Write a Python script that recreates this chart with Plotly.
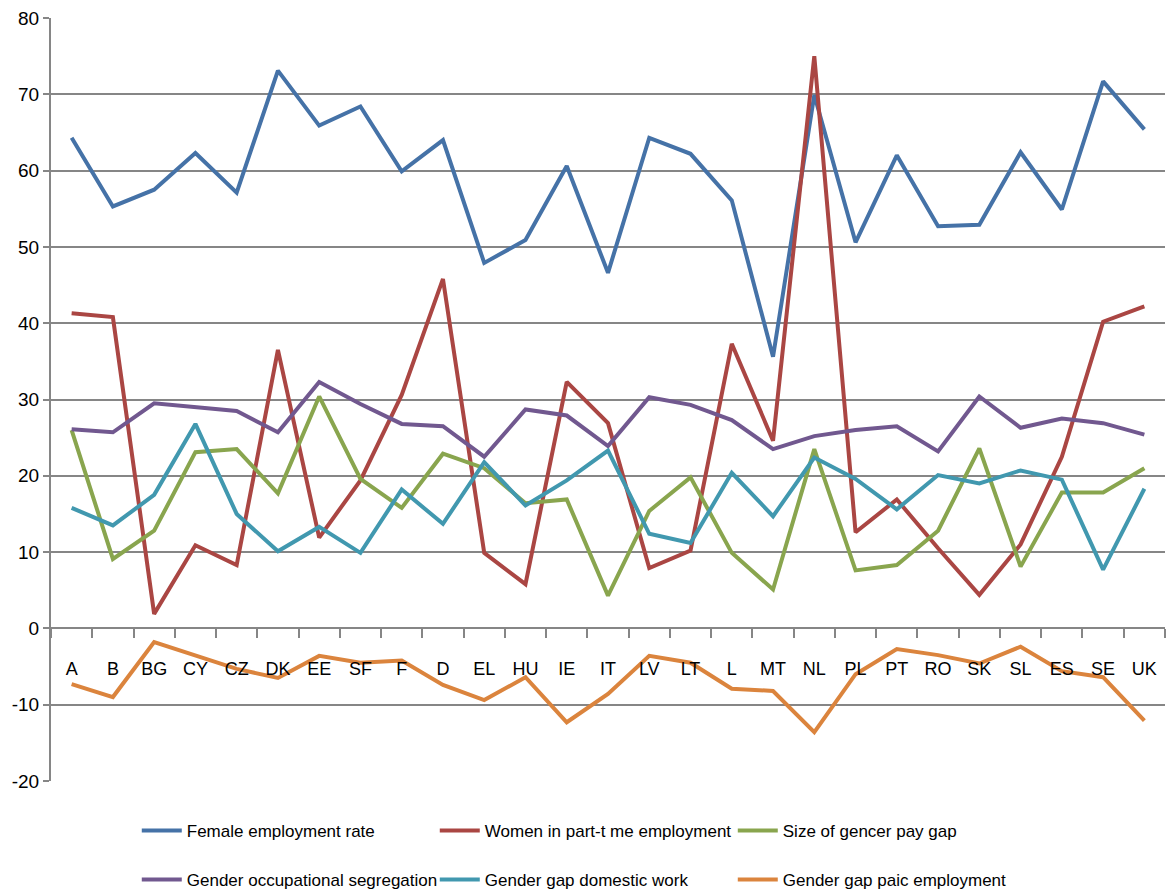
import plotly.graph_objects as go

countries = ["A", "B", "BG", "CY", "CZ", "DK", "EE", "SF", "F", "D", "EL", "HU", "IE", "IT",
             "LV", "LT", "L", "MT", "NL", "PL", "PT", "RO", "SK", "SL", "ES", "SE", "UK"]

female_employment = [64.3, 55.3, 57.5, 62.3, 57.1, 73.1, 65.9, 68.4, 59.9, 64.0, 47.9, 50.9, 60.6, 46.6,
                     64.3, 62.2, 56.1, 35.6, 69.9, 50.6, 62.0, 52.7, 52.9, 62.4, 54.9, 71.7, 65.4]
part_time = [41.3, 40.8, 1.9, 10.9, 8.3, 36.5, 11.9, 19.4, 30.6, 45.8, 9.9, 5.8, 32.3, 26.9,
             7.9, 10.2, 37.3, 24.6, 75.0, 12.6, 16.9, 10.5, 4.4, 11.0, 22.5, 40.2, 42.2]
pay_gap = [26.0, 9.1, 12.8, 23.1, 23.5, 17.7, 30.4, 19.6, 15.8, 22.9, 21.0, 16.4, 16.9, 4.3,
           15.4, 19.8, 9.9, 5.1, 23.5, 7.6, 8.3, 12.8, 23.6, 8.1, 17.8, 17.8, 21.0]
segregation = [26.1, 25.7, 29.5, 29.0, 28.5, 25.7, 32.3, 29.4, 26.8, 26.5, 22.5, 28.7, 27.9, 23.9,
               30.3, 29.3, 27.3, 23.5, 25.2, 26.0, 26.5, 23.2, 30.4, 26.3, 27.5, 26.9, 25.4]
domestic_gap = [15.8, 13.5, 17.5, 26.8, 15.0, 10.1, 13.3, 9.9, 18.2, 13.7, 21.8, 16.1, 19.4, 23.3,
                12.4, 11.2, 20.4, 14.7, 22.4, 19.6, 15.6, 20.1, 19.0, 20.7, 19.5, 7.7, 18.3]
paid_gap = [-7.3, -9.0, -1.8, -3.5, -5.3, -6.5, -3.6, -4.5, -4.2, -7.4, -9.4, -6.4, -12.3, -8.6,
            -3.6, -4.5, -7.9, -8.2, -13.6, -6.0, -2.7, -3.5, -4.6, -2.4, -5.6, -6.4, -12.1]

y_tick_values = [-20, -10, 0, 10, 20, 30, 40, 50, 60, 70, 80]
y_tick_labels = ["-20", "-10", "0", "10", "20", "30", "40", "50", "60", "70", "80"]

series = [
    ("Female employment rate", female_employment, "#4572A7", "legend"),
    ("Women in part-t me employment", part_time, "#AA4643", "legend"),
    ("Size of gencer pay gap", pay_gap, "#89A54E", "legend"),
    ("Gender occupational segregation", segregation, "#71588F", "legend2"),
    ("Gender gap domestic work", domestic_gap, "#4198AF", "legend2"),
    ("Gender gap paic employment", paid_gap, "#DB843D", "legend2"),
]

FONT = "Liberation Sans, Arial, sans-serif"

fig = go.Figure()
for name, vals, color, lg in series:
    fig.add_trace(go.Scatter(x=countries, y=vals, name=name, mode="lines",
                             line=dict(color=color, width=4), legend=lg))

legend_common = dict(orientation="h", x=0.077, xanchor="left", yanchor="middle",
                     entrywidth=243, entrywidthmode="pixels", itemwidth=40,
                     font=dict(family=FONT, size=17, color="black"),
                     bgcolor="rgba(0,0,0,0)", borderwidth=0)

fig.update_layout(
    width=1166, height=892,
    margin=dict(l=51, r=1, t=18, b=111, autoexpand=False),
    paper_bgcolor="white", plot_bgcolor="white",
    font=dict(family=FONT, size=18, color="black"),
    xaxis=dict(
        type="category", range=[-0.5, 26.5],
        anchor="free", position=0.2,
        showline=True, linecolor="#868686", linewidth=2,
        ticks="outside", tickson="boundaries", ticklen=9, tickwidth=2, tickcolor="#868686",
        ticklabelstandoff=24, showgrid=False,
        tickfont=dict(family=FONT, size=18, color="black"),
    ),
    yaxis=dict(
        range=[-20, 80], tickvals=y_tick_values, ticktext=y_tick_labels,
        showline=True, linecolor="#868686", linewidth=2,
        showgrid=True, gridcolor="#868686", gridwidth=2,
        zeroline=False,
        ticks="outside", ticklen=6, tickwidth=2, tickcolor="#868686",
        tickfont=dict(family=FONT, size=19, color="black"),
    ),
    legend=dict(y=-0.0655, **legend_common),
    legend2=dict(y=-0.1298, **legend_common),
)

fig.write_html("out.html")
